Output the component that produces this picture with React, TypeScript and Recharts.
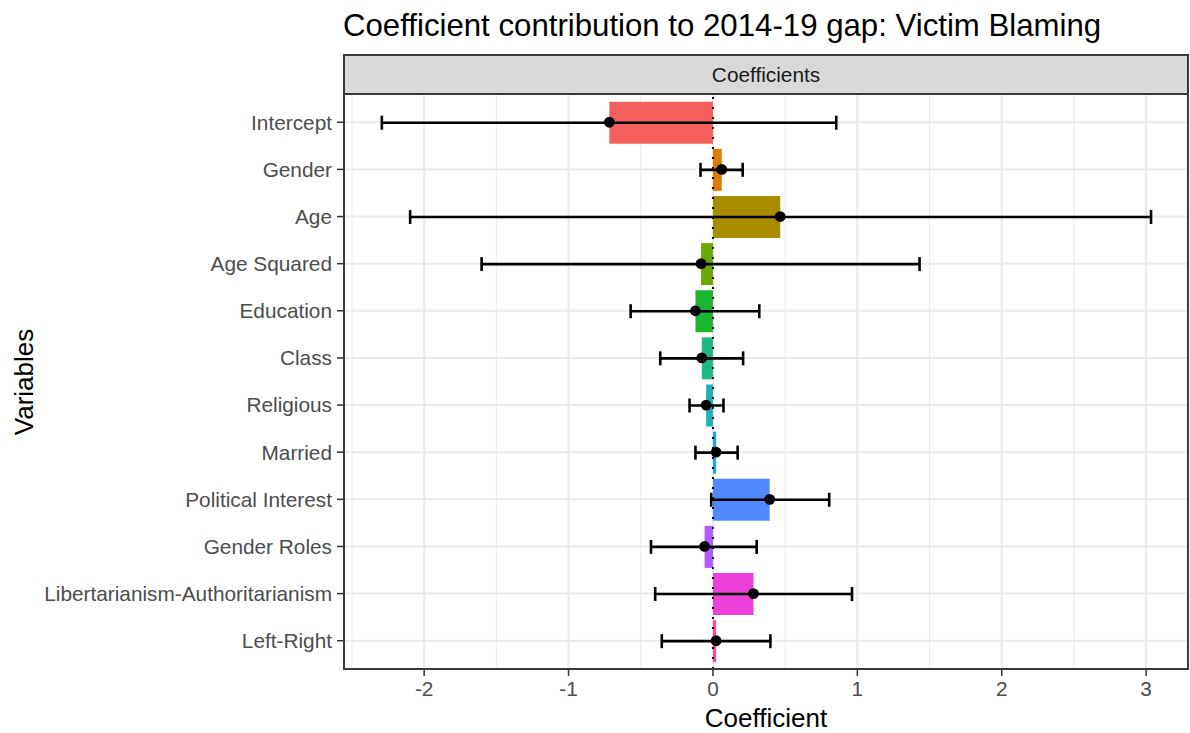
import React from 'react';
import {
  ComposedChart,
  Bar,
  Line,
  ErrorBar,
  Cell,
  XAxis,
  YAxis,
  CartesianGrid,
  ReferenceLine,
} from 'recharts';

const variables = [
  'Intercept',
  'Gender',
  'Age',
  'Age Squared',
  'Education',
  'Class',
  'Religious',
  'Married',
  'Political Interest',
  'Gender Roles',
  'Libertarianism-Authoritarianism',
  'Left-Right',
];

const estimates = [-0.717, 0.061, 0.466, -0.082, -0.121, -0.077, -0.047, 0.022, 0.393, -0.058, 0.281, 0.022];
const lowerBounds = [-2.293, -0.086, -2.097, -1.602, -0.57, -0.365, -0.162, -0.121, -0.012, -0.429, -0.4, -0.354];
const upperBounds = [0.854, 0.206, 3.034, 1.431, 0.321, 0.209, 0.073, 0.171, 0.805, 0.303, 0.963, 0.398];

const barColors = [
  '#F35F5C',
  '#DA7D00',
  '#A88D00',
  '#6CA700',
  '#1DB430',
  '#1CB986',
  '#1AB4B7',
  '#19A7E8',
  '#5088FF',
  '#B05CFF',
  '#EC40DA',
  '#F94C9F',
];

const majorTicks = [-2, -1, 0, 1, 2, 3];
const minorTicks = [-2.5, -1.5, -0.5, 0.5, 1.5, 2.5];

const rows = variables.map((name, i) => ({
  name,
  estimate: estimates[i],
  err: [estimates[i] - lowerBounds[i], upperBounds[i] - estimates[i]],
}));

const FONT = '"Liberation Sans", Arial, Helvetica, sans-serif';
const W = 1190;
const H = 733;
const PANEL_LEFT = 344;
const PANEL_TOP = 94;
const PANEL_RIGHT = 1188;
const PANEL_BOTTOM = 669;
const STRIP_TOP = 54;

export default function App() {
  return (
    <div style={{ position: 'relative', width: W, height: H, fontFamily: FONT, background: '#fff' }}>
      <style>{`body { margin: 0; }`}</style>

      <div
        style={{
          position: 'absolute',
          left: 343,
          top: 10,
          fontSize: 31.2,
          lineHeight: 1,
          color: '#000',
          whiteSpace: 'nowrap',
        }}
      >
        Coefficient contribution to 2014-19 gap: Victim Blaming
      </div>

      {/* facet strip */}
      <div
        style={{
          position: 'absolute',
          left: PANEL_LEFT - 1,
          top: STRIP_TOP,
          width: PANEL_RIGHT - PANEL_LEFT + 2,
          height: PANEL_TOP - STRIP_TOP + 1,
          boxSizing: 'border-box',
          background: '#D9D9D9',
          border: '2px solid #3A3A3A',
          display: 'flex',
          alignItems: 'center',
          justifyContent: 'center',
          fontSize: 20.8,
          color: '#1A1A1A',
        }}
      >
        Coefficients
      </div>

      <ComposedChart
        width={W}
        height={H}
        layout="vertical"
        data={rows}
        margin={{ top: PANEL_TOP, right: W - PANEL_RIGHT, bottom: 0, left: 0 }}
      >
        <CartesianGrid xAxisId="minor" horizontal={false} stroke="#EBEBEB" strokeWidth={1} />
        <CartesianGrid stroke="#EBEBEB" strokeWidth={2} />
        <XAxis
          type="number"
          domain={[-2.555, 3.29]}
          ticks={majorTicks}
          allowDataOverflow
          height={H - PANEL_BOTTOM}
          axisLine={false}
          tickLine={{ stroke: '#333', strokeWidth: 1.5 }}
          tickSize={7}
          tickMargin={5}
          tick={{ fontSize: 20.8, fill: '#4D4D4D', fontFamily: FONT }}
        />
        <XAxis
          xAxisId="minor"
          type="number"
          domain={[-2.555, 3.29]}
          ticks={minorTicks}
          allowDataOverflow
          hide
        />
        <YAxis
          type="category"
          dataKey="name"
          width={PANEL_LEFT}
          padding={{ top: 4.7, bottom: 4.7 }}
          axisLine={false}
          tickLine={{ stroke: '#333', strokeWidth: 1.5 }}
          tickSize={7}
          tickMargin={5}
          interval={0}
          tick={{ fontSize: 20.8, fill: '#4D4D4D', fontFamily: FONT }}
        />
        <Bar dataKey="estimate" barSize={42} isAnimationActive={false}>
          {rows.map((r, i) => (
            <Cell key={r.name} fill={barColors[i]} />
          ))}
          <ErrorBar dataKey="err" direction="x" width={7} stroke="#000" strokeWidth={2.6} />
        </Bar>
        <ReferenceLine x={0} stroke="#000" strokeWidth={2} strokeDasharray="2 8" />
        <Line
          dataKey="estimate"
          stroke="none"
          isAnimationActive={false}
          dot={{ r: 5.4, fill: '#000', stroke: '#000', strokeWidth: 0 }}
          activeDot={false}
        />
      </ComposedChart>

      {/* panel border */}
      <div
        style={{
          position: 'absolute',
          left: PANEL_LEFT - 1,
          top: PANEL_TOP - 1,
          width: PANEL_RIGHT - PANEL_LEFT + 2,
          height: PANEL_BOTTOM - PANEL_TOP + 2,
          boxSizing: 'border-box',
          border: '2px solid #3A3A3A',
          pointerEvents: 'none',
        }}
      />

      <div
        style={{
          position: 'absolute',
          left: (PANEL_LEFT + PANEL_RIGHT) / 2,
          top: 705,
          transform: 'translateX(-50%)',
          fontSize: 26,
          lineHeight: 1,
          color: '#000',
          whiteSpace: 'nowrap',
        }}
      >
        Coefficient
      </div>

      <div
        style={{
          position: 'absolute',
          left: 24,
          top: (PANEL_TOP + PANEL_BOTTOM) / 2,
          transform: 'translate(-50%, -50%) rotate(-90deg)',
          fontSize: 26,
          lineHeight: 1,
          color: '#000',
          whiteSpace: 'nowrap',
        }}
      >
        Variables
      </div>
    </div>
  );
}
